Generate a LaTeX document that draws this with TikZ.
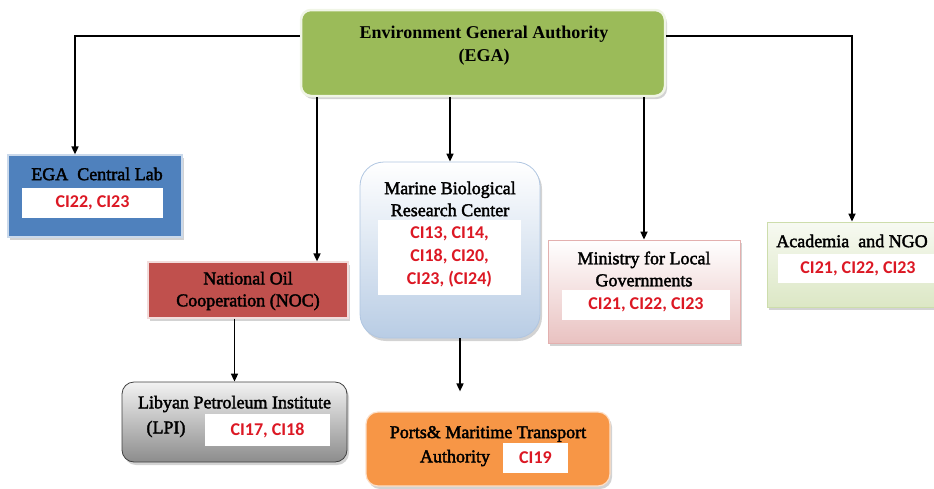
\documentclass[tikz,border=0pt]{standalone}
\usepackage{fontspec}
\setmainfont{Liberation Serif}
\newfontfamily\codefont{Carlito}
\newfontfamily\heavyserif[FakeBold=2.2]{Liberation Serif}
\usetikzlibrary{arrows.meta,shadows}
\definecolor{egagreen}{HTML}{9BBB59}
\definecolor{labblue}{HTML}{4F81BD}
\definecolor{nocred}{HTML}{C0504D}
\definecolor{portorange}{HTML}{F79646}
\definecolor{codered}{RGB}{220,24,36}
\begin{document}
\begin{tikzpicture}[x=1pt,y=-1pt,
  box/.style={draw, line width=1.2pt, drop shadow={shadow xshift=2pt,shadow yshift=-3pt,opacity=0.35}},
  title/.style={font=\heavyserif\fontsize{18}{22}\selectfont, align=center, inner sep=0pt, text=black},
  codes/.style={fill=white, font=\codefont\bfseries\fontsize{18}{23}\selectfont, text=codered, align=center, inner sep=0pt},
  arr/.style={line width=1.6pt, -{Triangle[length=8pt,width=7pt]}}]
\useasboundingbox (0,0) rectangle (934,488);

% Environment General Authority
\node[box, draw=white!85!egagreen, line width=2.5pt, fill=egagreen, rounded corners=10pt,
      minimum width=364pt, minimum height=86pt] (ega) at (483,53) {};
\node[title, font=\bfseries\fontsize{18}{23}\selectfont] (egat) at (484,46) {Environment General Authority\\(EGA)};

% EGA Central Lab
\node[box, draw=labblue!30!white, fill=labblue, minimum width=174pt, minimum height=82pt] (lab) at (95,196) {};
\node[title] (labt) at (97,174) {EGA\ \ Central Lab};
\node[codes, minimum width=141pt, minimum height=30pt] (labc) at (92.5,203) {CI22, CI23};

% National Oil Cooperation
\node[box, draw=nocred!20!white, fill=nocred, minimum width=200pt, minimum height=56pt] (noc) at (248,290) {};
\node[title] (noct) at (248,291) {National Oil\\Cooperation (NOC)};

% Libyan Petroleum Institute
\node[box, draw=black!75, line width=0.8pt, rounded corners=12pt, top color=black!5, bottom color=black!45,
      minimum width=225pt, minimum height=80pt] (lpi) at (234.5,422) {};
\node[title] (lpit) at (234.5,404) {Libyan Petroleum Institute};
\node[title] (lpil) at (166,429) {(LPI)};
\node[codes, minimum width=125pt, minimum height=32pt] (lpic) at (267.5,430) {CI17, CI18};

% Marine Biological Research Center
\node[box, draw=labblue!45!white, line width=0.8pt, rounded corners=24pt, top color=white, bottom color=labblue!40!white,
      minimum width=180pt, minimum height=176pt] (mar) at (450,250) {};
\node[title] (mart) at (450,199) {Marine Biological\\Research Center};
\node[codes, minimum width=143pt, minimum height=75pt] (marc) at (449.5,257) {CI13, CI14,\\CI18, CI20,\\CI23, (CI24)};

% Ports & Maritime Transport Authority
\node[box, draw=portorange!30!white, fill=portorange, rounded corners=12pt,
      minimum width=244pt, minimum height=74pt] (port) at (488,449) {};
\node[title] (portt) at (488,434) {Ports\& Maritime Transport};
\node[title] (porta) at (455,458) {Authority};
\node[codes, minimum width=65pt, minimum height=30pt] (portc) at (535.5,458) {CI19};

% Ministry for Local Governments
\node[box, draw=nocred!45!white, line width=0.8pt, top color=white, bottom color=nocred!35!white,
      minimum width=192pt, minimum height=103pt] (min) at (644,291.5) {};
\node[title] (mint) at (644,269) {Ministry for Local\\Governments};
\node[codes, minimum width=168pt, minimum height=30pt] (minc) at (646,305) {CI21, CI22, CI23};

% Academia and NGO
\node[box, draw=egagreen!50!white, line width=0.8pt, top color=egagreen!8!white, bottom color=egagreen!35!white,
      minimum width=170pt, minimum height=85pt] (acad) at (852,264.5) {};
\node[title] (acadt) at (852,241) {Academia\ \ and NGO};
\node[codes, minimum width=160pt, minimum height=29pt] (acadc) at (858,268.5) {CI21, CI22, CI23};

% connectors
\coordinate (xa) at (75,0);
\coordinate (xb) at (317,0);
\draw[arr] ([yshift=17pt]ega.west) -| (lab.north -| xa);
\draw[arr] ([yshift=17pt]ega.east) -| (acad.north);
\draw[arr] (ega.south -| xb) -- (noc.north -| xb);
\draw[arr] (ega.south -| mar.north) -- (mar.north);
\draw[arr] (ega.south -| min.north) -- (min.north);
\draw[arr] (noc.south -| lpi.north) -- (lpi.north);
\draw[arr, shorten >=20pt] ([xshift=10pt]mar.south) -- ([xshift=10pt]mar.south |- port.north);
\end{tikzpicture}
\end{document}
